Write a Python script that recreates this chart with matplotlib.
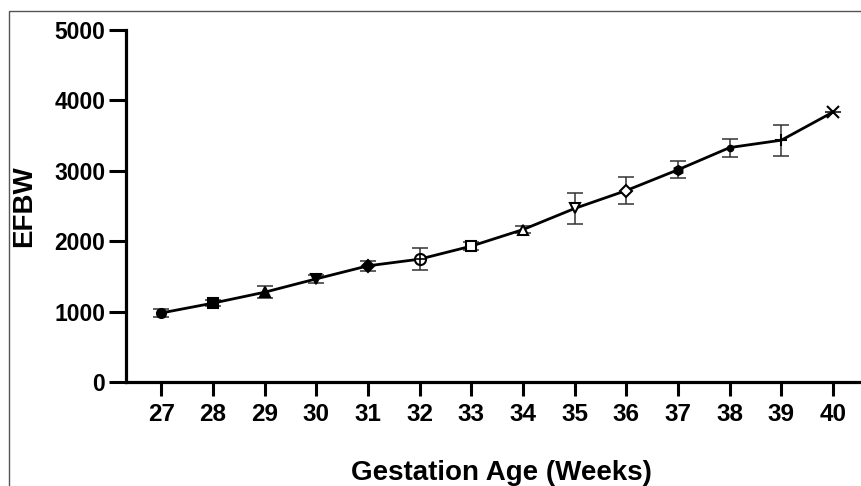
import matplotlib
matplotlib.use("Agg")
import matplotlib.pyplot as plt
from matplotlib.patches import Rectangle

# gestation week, mean EFBW and error
weeks = [27, 28, 29, 30, 31, 32, 33, 34, 35, 36, 37, 38, 39, 40]
efbw = [980, 1120, 1275, 1465, 1650, 1745, 1930, 2165, 2465, 2720, 3015, 3330, 3435, 3835]
err = [50, 45, 85, 55, 70, 160, 60, 50, 225, 185, 120, 128, 220, 0]
markers = ['o', 's', '^', 'v', 'D', 'o', 's', '^', 'v', 'D', 'h', '.', '+', 'x']
filled = [True, True, True, True, True, False, False, False, False, False, True, True, True, True]

plt.rcParams['font.family'] = ['Liberation Sans', 'DejaVu Sans']
plt.rcParams['font.weight'] = 'bold'

fig = plt.figure(figsize=(8.61, 4.86), dpi=100)
ax = fig.add_axes([126 / 861, 104 / 486, 735 / 861, 352 / 486])

# thin frame of the cropped original
fig.patches.append(Rectangle((8.5 / 861, -0.1), 1.2, (486 - 11.5) / 486 + 0.1,
                             transform=fig.transFigure, fill=False,
                             edgecolor='#555555', linewidth=1.0))

ax.plot(weeks, efbw, color='black', linewidth=2.0, zorder=2)
ax.errorbar(weeks, efbw, yerr=err, fmt='none', ecolor='#333333',
            elinewidth=1.1, capsize=5.5, capthick=1.1, zorder=1)

for x, y, m, f in zip(weeks, efbw, markers, filled):
    size = 6.5
    if m in ('+', 'x'):
        size = 9
    if m == '.':
        size = 8
    if x == 32:
        size = 8
    ax.plot(x, y, marker=m, markersize=size, markeredgewidth=1.5,
            markeredgecolor='black', markerfacecolor='black' if f else 'white',
            linestyle='none', zorder=3)
    if x == 32:
        ax.plot(x, y, marker='+', markersize=8, markeredgewidth=1.2,
                color='black', linestyle='none', zorder=4)

ax.set_xlim(26.32, 40.54)
ax.set_ylim(0, 5000)
ax.set_xticks(weeks)
ax.set_yticks([0, 1000, 2000, 3000, 4000, 5000])

for s in ['top', 'right']:
    ax.spines[s].set_visible(False)
for s in ['left', 'bottom']:
    ax.spines[s].set_linewidth(2.3)

ax.tick_params(axis='y', length=12, width=2.2, pad=3, labelsize=16.5)
ax.tick_params(axis='x', length=10, width=2.2, pad=5, labelsize=17.5)
for lab in ax.get_xticklabels() + ax.get_yticklabels():
    lab.set_fontweight('bold')

fig.text(24 / 861, 1 - 206 / 486, 'EFBW', rotation=90, ha='center', va='center',
         fontsize=20, fontweight='bold')
fig.text(501 / 861, 1 - 473 / 486, 'Gestation Age (Weeks)', ha='center', va='center',
         fontsize=20, fontweight='bold')

fig.savefig('out.png', dpi=100)
